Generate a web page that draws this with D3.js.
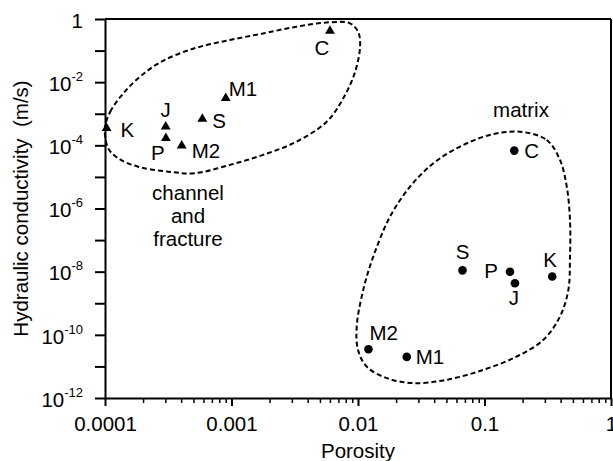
<!DOCTYPE html>
<html>
<head>
<meta charset="utf-8">
<script src="https://cdn.jsdelivr.net/npm/d3@7"></script>
<style>
  body { margin: 0; background: #fff; }
  svg text { font-family: Arial, "Liberation Sans", sans-serif; fill: #000; }
</style>
</head>
<body>
<div id="chart"></div>
<script>
// Channel and fracture samples (triangles)
const fractureNames = ["K", "J", "P", "M2", "S", "M1", "C"];
const fracturePorosity = [0.000103, 0.000302, 0.000303, 0.000404, 0.000588, 0.0009, 0.006];
const fractureConductivity = [3.48e-4, 3.9e-4, 1.68e-4, 9.8e-5, 6.85e-4, 3.1e-3, 0.417];

// Matrix samples (circles)
const matrixNames = ["C", "S", "P", "J", "K", "M2", "M1"];
const matrixPorosity = [0.172, 0.067, 0.159, 0.174, 0.343, 0.0121, 0.0243];
const matrixConductivity = [6.8e-5, 1.1e-8, 9.9e-9, 4.3e-9, 7e-9, 3.5e-11, 2e-11];

// Dashed envelopes, [porosity, conductivity]
const fractureEnvelope = [
  [1.0e-4, 3.5e-4], [1.10e-4, 1.16e-3], [1.36e-4, 3.9e-3], [1.83e-4, 1.33e-2],
  [2.8e-4, 4.5e-2], [5.1e-4, 0.118], [9.7e-4, 0.216], [1.78e-3, 0.35],
  [3.27e-3, 0.57], [6.0e-3, 0.79], [8.65e-3, 0.73], [1.0e-2, 0.40],
  [1.04e-2, 0.15], [9.5e-3, 2.15e-2], [7.65e-3, 3.1e-3], [5.66e-3, 5.6e-4],
  [3.27e-3, 1.31e-4], [1.78e-3, 5.0e-5], [9.7e-4, 2.4e-5], [5.1e-4, 1.31e-5],
  [3.16e-4, 1.47e-5], [1.83e-4, 2.1e-5], [1.27e-4, 3.9e-5], [1.06e-4, 8.1e-5]
];
const matrixEnvelope = [
  [0.191, 2.7e-4], [0.31, 1.48e-4], [0.395, 3.45e-5], [0.447, 4.9e-6],
  [0.474, 4.35e-7], [0.474, 2.7e-8], [0.46, 2.65e-9], [0.395, 3.8e-10],
  [0.292, 6.95e-11], [0.18, 2.06e-11], [0.098, 7.8e-12], [0.0503, 3.77e-12],
  [0.0274, 2.96e-12], [0.0169, 4.26e-12], [0.0117, 9.9e-12], [0.01, 3.35e-11],
  [0.00977, 1.83e-10], [0.011, 2.65e-9], [0.0132, 3.0e-8], [0.0179, 5.5e-7],
  [0.0258, 4.9e-6], [0.0394, 2.7e-5], [0.064, 9.1e-5], [0.11, 2.13e-4]
];

// Axis ticks
const xMajorTicks = [1e-4, 1e-3, 1e-2, 1e-1, 1];
const xTickLabels = ["0.0001", "0.001", "0.01", "0.1", "1"];
const yTickExponents = [0, -1, -2, -3, -4, -5, -6, -7, -8, -9, -10, -11, -12];
const yLabelExponents = [0, -2, -4, -6, -8, -10, -12];

// Label offsets (px) relative to each marker
const fractureLabelPos = {
  K: [14, 9, "start"], J: [0, -10, "middle"], P: [-8, 22, "middle"],
  M2: [10, 12, "start"], S: [10, 9, "start"], M1: [3, -2, "start"], C: [-8, 24, "middle"]
};
const matrixLabelPos = {
  C: [10, 7, "start"], S: [0, -11, "middle"], P: [-12, 6, "end"],
  J: [-1, 22, "middle"], K: [-2, -10, "middle"], M2: [1, -9, "start"], M1: [9, 7, "start"]
};

const width = 613;
const height = 461;
const margin = { top: 19, right: 2, bottom: 63, left: 105 };
const fontSize = 20.5;

const svg = d3.select("#chart")
  .append("svg")
  .attr("width", width)
  .attr("height", height);

const xScale = d3.scaleLog()
  .domain([1e-4, 1])
  .range([margin.left, width - margin.right]);

const yScale = d3.scaleLog()
  .domain([1e-12, 1])
  .range([height - margin.bottom, margin.top]);

// Minor x ticks 2..9 per decade
const xMinorTicks = [];
xMajorTicks.slice(0, -1).forEach((d) => {
  for (let k = 2; k <= 9; k++) xMinorTicks.push(d * k);
});

// x minor ticks
svg.append("g")
  .attr("transform", `translate(0,${yScale.range()[0]})`)
  .call(d3.axisBottom(xScale).tickValues(xMinorTicks).tickSize(5).tickSizeOuter(0).tickFormat(() => ""))
  .call((g) => g.select(".domain").remove())
  .call((g) => g.selectAll("line").attr("stroke-width", 1.5));

// x major ticks + labels
const gx = svg.append("g")
  .attr("transform", `translate(0,${yScale.range()[0]})`)
  .call(d3.axisBottom(xScale).tickValues(xMajorTicks).tickSize(8).tickSizeOuter(0)
    .tickPadding(10).tickFormat((d, i) => xTickLabels[i]));
gx.selectAll("line").attr("stroke-width", 2);
gx.select(".domain").attr("stroke-width", 2);
gx.selectAll("text").attr("font-size", fontSize).attr("font-family", null);

// y axis
const gy = svg.append("g")
  .attr("transform", `translate(${xScale.range()[0]},0)`)
  .call(d3.axisLeft(yScale).tickValues(yTickExponents.map((e) => Math.pow(10, e)))
    .tickSize(10).tickSizeOuter(0).tickPadding(12).tickFormat(() => ""));
gy.selectAll("line").attr("stroke-width", 2);
gy.select(".domain").attr("stroke-width", 2);
gy.selectAll(".tick text").each(function (d) {
  const e = Math.round(Math.log10(d));
  const t = d3.select(this)
    .attr("font-size", fontSize)
    .attr("font-family", null)
    .attr("dy", "0.4em");
  if (!yLabelExponents.includes(e)) return;
  if (e === 0) { t.text("1"); return; }
  t.append("tspan").text("10");
  t.append("tspan").attr("dy", -10).attr("font-size", 13).text(e);
});

// Frame (top and right)
svg.append("line")
  .attr("x1", xScale.range()[0]).attr("x2", xScale.range()[1])
  .attr("y1", yScale.range()[1]).attr("y2", yScale.range()[1])
  .attr("stroke", "#000").attr("stroke-width", 2);
svg.append("line")
  .attr("x1", xScale.range()[1]).attr("x2", xScale.range()[1])
  .attr("y1", yScale.range()[1]).attr("y2", yScale.range()[0])
  .attr("stroke", "#000").attr("stroke-width", 2);

// Axis titles
svg.append("text")
  .attr("x", (xScale.range()[0] + xScale.range()[1]) / 2)
  .attr("y", 458)
  .attr("text-anchor", "middle")
  .attr("font-size", fontSize)
  .text("Porosity");

svg.append("text")
  .attr("transform", `translate(28,${(yScale.range()[0] + yScale.range()[1]) / 2}) rotate(-90)`)
  .attr("text-anchor", "middle")
  .attr("font-size", fontSize)
  .text("Hydraulic conductivity \u00a0(m/s)");

// Envelopes
const envelopeLine = d3.line()
  .x((d) => xScale(d[0]))
  .y((d) => yScale(d[1]))
  .curve(d3.curveCatmullRomClosed);

[fractureEnvelope, matrixEnvelope].forEach((pts) => {
  svg.append("path")
    .attr("d", envelopeLine(pts))
    .attr("fill", "none")
    .attr("stroke", "#000")
    .attr("stroke-width", 2)
    .attr("stroke-dasharray", "5,3");
});

// Fracture points
const fractureData = fractureNames.map((n, i) => ({
  name: n, x: fracturePorosity[i], y: fractureConductivity[i]
}));
const matrixData = matrixNames.map((n, i) => ({
  name: n, x: matrixPorosity[i], y: matrixConductivity[i]
}));

svg.selectAll(".tri")
  .data(fractureData)
  .enter()
  .append("path")
  .attr("class", "tri")
  .attr("d", d3.symbol().type(d3.symbolTriangle).size(42))
  .attr("transform", (d) => `translate(${xScale(d.x)},${yScale(d.y)})`)
  .attr("fill", "#000");

svg.selectAll(".dot")
  .data(matrixData)
  .enter()
  .append("circle")
  .attr("class", "dot")
  .attr("cx", (d) => xScale(d.x))
  .attr("cy", (d) => yScale(d.y))
  .attr("r", 4.3)
  .attr("fill", "#000");

// Point labels
function addLabels(data, pos) {
  svg.selectAll(null)
    .data(data)
    .enter()
    .append("text")
    .attr("x", (d) => xScale(d.x) + pos[d.name][0])
    .attr("y", (d) => yScale(d.y) + pos[d.name][1])
    .attr("text-anchor", (d) => pos[d.name][2])
    .attr("font-size", fontSize)
    .text((d) => d.name);
}
addLabels(fractureData, fractureLabelPos);
addLabels(matrixData, matrixLabelPos);

// Group annotations
const groupNotes = ["channel", "and", "fracture"];
svg.selectAll(null)
  .data(groupNotes)
  .enter()
  .append("text")
  .attr("x", 188)
  .attr("y", (d, i) => 200 + i * 23)
  .attr("text-anchor", "middle")
  .attr("font-size", fontSize)
  .text((d) => d);

svg.append("text")
  .attr("x", 521)
  .attr("y", 117)
  .attr("text-anchor", "middle")
  .attr("font-size", fontSize)
  .text("matrix");
</script>
</body>
</html>
